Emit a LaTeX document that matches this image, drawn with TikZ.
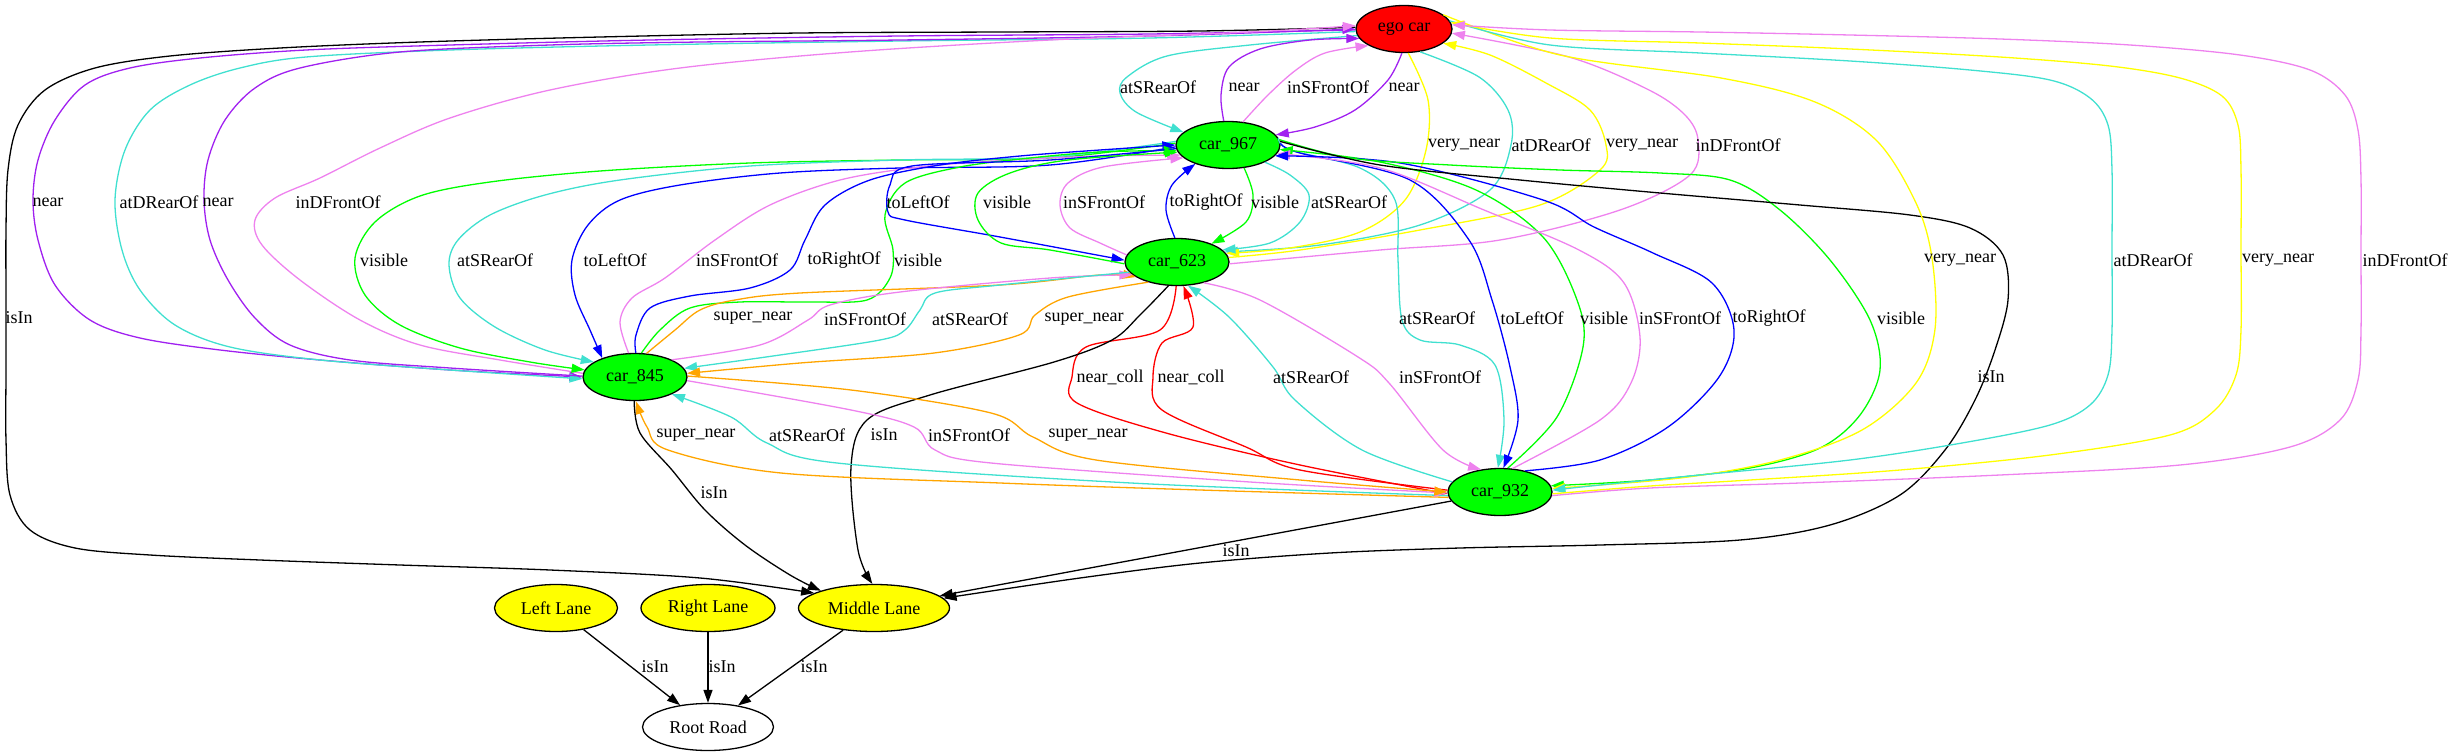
\documentclass[tikz,border=0pt]{standalone}
\usepackage{fontspec}
\setmainfont{Liberation Serif}
\usetikzlibrary{shapes.geometric,arrows.meta}
\definecolor{gvgreen}{RGB}{0,255,0}
\definecolor{gvturq}{RGB}{64,224,208}
\definecolor{gvviolet}{RGB}{238,130,238}
\definecolor{gvpurple}{RGB}{160,32,240}
\definecolor{gvblue}{RGB}{0,0,255}
\definecolor{gvyellow}{RGB}{255,255,0}
\definecolor{gvorange}{RGB}{255,165,0}
\definecolor{gvred}{RGB}{255,0,0}
\tikzset{
  gvnode/.style={ellipse, draw=black, line width=1.3pt, inner sep=0pt, minimum height=47pt, font=\fontsize{18}{20}\selectfont},
  lbl/.style={inner sep=0pt, font=\fontsize{18}{20}\selectfont},
  edg/.style={line width=1.3pt, -{Triangle[length=13pt,width=9pt]}},
  sm/.style={smooth, tension=0.55},
}
\begin{document}
\begin{tikzpicture}[x=1pt,y=-1pt]
\useasboundingbox (0,0) rectangle (2453,755);
% nodes
\node[gvnode, fill=gvred, minimum width=96pt] (ego) at (1404,29) {ego car};
\node[gvnode, fill=gvgreen, minimum width=104pt] (n967) at (1228,145) {car\_967};
\node[gvnode, fill=gvgreen, minimum width=104pt] (n623) at (1177,262) {car\_623};
\node[gvnode, fill=gvgreen, minimum width=104pt] (n845) at (635,377) {car\_845};
\node[gvnode, fill=gvgreen, minimum width=104pt] (n932) at (1500,492) {car\_932};
\node[gvnode, fill=gvyellow, minimum width=123pt] (left) at (556,608) {Left Lane};
\node[gvnode, fill=gvyellow, minimum width=134pt] (right) at (708,608) {Right Lane};
\node[gvnode, fill=gvyellow, minimum width=151pt] (mid) at (874,608) {Middle Lane};
\node[gvnode, fill=white, minimum width=131pt] (root) at (708,727) {Root Road};

% ego <-> car_967
\draw[edg,gvturq] plot[sm] coordinates {(ego.188) (1250,45) (1167,56) (1127,77) (1120,93) (1136,112) (n967.164)};
\draw[edg,gvpurple] plot[sm] coordinates {(n967.100) (1221,95) (1229,67) (1260,49) (1310,40) (ego.192)};
\draw[edg,gvviolet] plot[sm] coordinates {(n967.57) (1268,95) (1296,70) (1325,53) (ego.205)};
\draw[edg,gvpurple] plot[sm] coordinates {(ego.265) (1388,80) (1355,110) (1315,127) (n967.12)};
% ego <-> car_623
\draw[edg,gvturq] plot[sm] coordinates {(ego.305) (1479,77) (1508,110) (1511,145) (1490,190) (1420,225) (1320,245) (n623.12)};
\draw[edg,gvyellow] plot[sm] coordinates {(ego.280) (1428,100) (1426,150) (1405,200) (1360,232) (1290,248) (n623.10)};
\draw[edg,gvyellow] plot[sm] coordinates {(n623.5) (1300,250) (1420,230) (1540,205) (1600,170) (1606,145) (1590,110) (1546,83) (1490,55) (ego.340)};
\draw[edg,gvviolet] plot[sm] coordinates {(n623.358) (1380,250) (1500,240) (1620,210) (1690,175) (1698,140) (1685,115) (1649,90) (1569,57) (ego.355)};
% ego -> Middle Lane
\draw[edg,black] plot[sm] coordinates {(ego.178) (1200,31) (1000,32) (800,33) (600,37) (420,42) (280,48) (170,56) (95,68) (45,90) (18,125) (8,170) (6,230) (6,300) (6,370) (6,440) (10,495) (30,530) (75,548) (150,555) (260,560) (400,565) (550,570) (700,578) (mid.166)};
% ego <-> car_845
\draw[edg,gvpurple] plot[sm] coordinates {(ego.181) (1150,34) (900,36) (650,40) (450,45) (306,50) (200,58) (130,68) (85,85) (55,120) (38,160) (33,200) (38,240) (55,285) (90,320) (140,338) (220,350) (320,360) (450,370) (n845.180)};
\draw[edg,gvturq] plot[sm] coordinates {(ego.183) (1150,38) (900,41) (650,45) (450,50) (306,57) (240,68) (190,85) (150,110) (125,150) (115,200) (122,250) (140,290) (175,325) (230,347) (320,360) (450,370) (n845.182)};
\draw[edg,gvpurple] plot[sm] coordinates {(n845.179) (450,368) (350,360) (290,345) (255,318) (228,280) (210,240) (204,200) (208,160) (225,120) (255,88) (300,68) (400,52) (550,45) (700,42) (900,40) (1150,36) (ego.180)};
\draw[edg,gvviolet] plot[sm] coordinates {(n845.176) (500,360) (420,345) (360,320) (300,280) (262,245) (255,220) (275,198) (320,178) (380,148) (450,118) (550,90) (680,68) (850,52) (1050,40) (1250,32) (ego.176)};
% car_967 <-> car_845
\draw[edg,gvgreen] plot[sm] coordinates {(n967.178) (1050,158) (900,160) (750,163) (600,171) (490,182) (420,196) (375,222) (355,258) (365,295) (400,325) (460,348) (530,362) (n845.172)};
\draw[edg,gvturq] plot[sm] coordinates {(n967.176) (1050,157) (900,160) (750,166) (620,180) (545,195) (490,215) (458,240) (449,265) (460,298) (495,327) (545,350) (n845.160)};
\draw[edg,gvblue] plot[sm] coordinates {(n967.182) (1050,165) (900,168) (780,173) (680,185) (620,200) (588,225) (572,260) (575,295) (590,330) (n845.150)};
\draw[edg,gvviolet] plot[sm] coordinates {(n845.105) (620,322) (632,298) (665,278) (715,240) (770,205) (840,180) (920,167) (1010,160) (1100,156) (n967.192)};
\draw[edg,gvblue] plot[sm] coordinates {(n845.88) (636,335) (650,308) (690,296) (750,288) (790,270) (805,240) (825,205) (870,180) (940,165) (1020,156) (1100,150) (n967.180)};
\draw[edg,gvgreen] plot[sm] coordinates {(n845.75) (660,330) (690,308) (740,302) (810,302) (867,300) (890,278) (893,250) (885,215) (905,183) (960,167) (1030,158) (1100,152) (n967.186)};
% car_967 <-> car_623
\draw[edg,gvblue] plot[sm] coordinates {(n967.184) (1050,160) (912,166) (890,185) (888,212) (905,220) (1000,237) (n623.178)};
\draw[edg,gvgreen] plot[sm] coordinates {(n623.182) (1050,250) (1001,243) (978,220) (978,193) (1010,173) (1068,160) (n967.188)};
\draw[edg,gvviolet] plot[sm] coordinates {(n623.172) (1100,243) (1070,228) (1060,205) (1068,183) (1103,167) (n967.196)};
\draw[edg,gvblue] plot[sm] coordinates {(n623.95) (1166,210) (1172,185) (n967.210)};
\draw[edg,gvgreen] plot[sm] coordinates {(n967.305) (1253,195) (1246,222) (n623.28)};
\draw[edg,gvturq] plot[sm] coordinates {(n967.335) (1290,175) (1309,195) (1300,222) (1270,243) (n623.15)};
% car_967 <-> car_932
\draw[edg,gvturq] plot[sm] coordinates {(n967.8) (1290,150) (1360,168) (1395,200) (1398,260) (1402,320) (1420,340) (1460,345) (1495,365) (1504,420) (n932.95)};
\draw[edg,gvblue] plot[sm] coordinates {(n967.2) (1300,153) (1410,180) (1469,240) (1492,300) (1510,367) (1518,420) (n932.82)};
\draw[edg,gvgreen] plot[sm] coordinates {(n932.72) (1557,417) (1583,347) (1577,300) (1543,237) (1476,190) (1380,162) (n967.355)};
\draw[edg,gvviolet] plot[sm] coordinates {(n932.62) (1600,420) (1631,383) (1640,337) (1624,283) (1579,250) (1484,210) (1380,168) (n967.350)};
\draw[edg,gvblue] plot[sm] coordinates {(n932.40) (1600,460) (1668,427) (1719,377) (1734,330) (1712,283) (1653,253) (1594,227) (1543,200) (1400,163) (n967.347)};
\draw[edg,gvgreen] plot[sm] coordinates {(n967.6) (1350,158) (1450,165) (1560,170) (1660,173) (1730,180) (1780,210) (1830,260) (1870,320) (1880,370) (1860,415) (1820,448) (1750,468) (1650,480) (n932.7)};
\draw[edg,black] plot[sm] coordinates {(n967.4) (1380,165) (1520,180) (1660,193) (1800,205) (1910,215) (1970,228) (2003,255) (2008,300) (1995,350) (1975,400) (1945,450) (1900,495) (1830,525) (1740,540) (1600,545) (1460,548) (1330,553) (1200,563) (1080,578) (mid.8)};
% ego <-> car_932
\draw[edg,gvyellow] plot[sm] coordinates {(ego.20) (1560,55) (1721,78) (1815,102) (1877,141) (1916,203) (1932,258) (1935,329) (1916,383) (1862,430) (1780,460) (1680,478) (n932.4)};
\draw[edg,gvturq] plot[sm] coordinates {(ego.10) (1550,45) (1700,53) (1850,61) (1970,70) (2050,80) (2090,98) (2108,125) (2112,170) (2112,250) (2112,330) (2108,375) (2090,405) (2050,425) (1962,443) (1850,460) (1700,475) (1600,485) (n932.2)};
\draw[edg,gvyellow] plot[sm] coordinates {(n932.358) (1650,486) (1750,480) (1900,470) (2050,455) (2170,435) (2215,410) (2236,375) (2241,330) (2241,250) (2241,170) (2238,125) (2222,96) (2180,78) (2110,66) (2000,57) (1850,49) (1700,43) (1550,38) (ego.8)};
\draw[edg,gvviolet] plot[sm] coordinates {(n932.356) (1650,488) (1800,483) (2000,475) (2180,465) (2290,447) (2340,420) (2358,380) (2361,330) (2361,255) (2361,180) (2358,130) (2345,95) (2310,70) (2240,55) (2130,45) (2000,39) (1850,35) (1700,32) (1550,30) (ego.5)};
% car_845 <-> car_623
\draw[edg,gvorange] plot[sm] coordinates {(n845.64) (675,330) (700,310) (735,300) (800,293) (1000,285) (1100,275) (n623.200)};
\draw[edg,gvviolet] plot[sm] coordinates {(n845.25) (760,345) (808,320) (830,305) (900,292) (1050,278) (n623.196)};
\draw[edg,gvturq] plot[sm] coordinates {(n623.192) (1000,285) (935,293) (920,310) (905,330) (880,340) (780,355) (n845.10)};
\draw[edg,gvorange] plot[sm] coordinates {(n623.215) (1068,297) (1035,315) (1019,335) (934,353) (800,363) (n845.4)};
% car_623 <-> car_932
\draw[edg,gvred] plot[sm] coordinates {(n623.268) (1160,330) (1086,347) (1072,377) (1077,403) (1166,433) (1300,465) (n932.182)};
\draw[edg,gvred] plot[sm] coordinates {(n932.178) (1300,470) (1246,447) (1162,410) (1153,377) (1162,343) (1193,327) (n623.285)};
\draw[edg,gvturq] plot[sm] coordinates {(n932.168) (1362,450) (1295,400) (1273,367) (1229,317) (n623.295)};
\draw[edg,gvviolet] plot[sm] coordinates {(n623.322) (1260,300) (1358,357) (1389,383) (1443,450) (n932.130)};
\draw[edg,black] plot[sm] coordinates {(n623.250) (1140,315) (1112,340) (1054,362) (930,395) (867,420) (851,467) (858,550) (mid.94)};
% car_845 <-> car_932
\draw[edg,gvorange] plot[sm] coordinates {(n932.186) (1200,490) (1000,483) (781,473) (668,450) (647,427) (n845.272)};
\draw[edg,gvturq] plot[sm] coordinates {(n932.184) (1131,483) (837,463) (767,443) (731,417) (n845.335)};
\draw[edg,gvviolet] plot[sm] coordinates {(n845.356) (851,410) (914,427) (935,450) (991,463) (1250,482) (n932.181)};
\draw[edg,gvorange] plot[sm] coordinates {(n845.1) (851,390) (991,413) (1033,437) (1096,460) (1300,480) (n932.180)};
\draw[edg,black] plot[sm] coordinates {(n845.268) (640,433) (672,470) (705,510) (745,545) (790,575) (mid.162)};
\draw[edg,black] (n932) -- (mid);
% lanes
\draw[edg,black] (left) -- (root);
\draw[edg,black] (right) -- (root);
\draw[edg,black] (mid) -- (root);

% labels
\node[lbl] (l1) at (1158,87) {atSRearOf};
\node[lbl] (l2) at (1244,87) {near};
\node[lbl] (l3) at (1328,87) {inSFrontOf};
\node[lbl] (l4) at (1404,87) {near};
\node[lbl] (l5) at (1464,145) {very\_near};
\node[lbl] (l6) at (1551,145) {atDRearOf};
\node[lbl] (l7) at (1642,145) {very\_near};
\node[lbl] (l8) at (1738,145) {inDFrontOf};
\node[lbl] (l9) at (48,202) {near};
\node[lbl] (l10) at (159,202) {atDRearOf};
\node[lbl] (l11) at (218,202) {near};
\node[lbl] (l12) at (338,202) {inDFrontOf};
\node[lbl] (l13) at (384,260) {visible};
\node[lbl] (l14) at (495,260) {atSRearOf};
\node[lbl] (l15) at (615,260) {toLeftOf};
\node[lbl] (l16) at (737,260) {inSFrontOf};
\node[lbl] (l17) at (844,260) {toRightOf};
\node[lbl] (l18) at (918,260) {visible};
\node[lbl] (l19) at (19,318) {isIn};
\node[lbl] (l20) at (918,202) {toLeftOf};
\node[lbl] (l21) at (1007,202) {visible};
\node[lbl] (l22) at (1104,202) {inSFrontOf};
\node[lbl] (l23) at (1206,202) {toRightOf};
\node[lbl] (l24) at (1275,202) {visible};
\node[lbl] (l25) at (1349,202) {atSRearOf};
\node[lbl] (l26) at (753,318) {super\_near};
\node[lbl] (l27) at (865,319) {inSFrontOf};
\node[lbl] (l28) at (970,319) {atSRearOf};
\node[lbl] (l29) at (1084,319) {super\_near};
\node[lbl] (l30) at (1437,318) {atSRearOf};
\node[lbl] (l31) at (1532,318) {toLeftOf};
\node[lbl] (l32) at (1604,318) {visible};
\node[lbl] (l33) at (1680,318) {inSFrontOf};
\node[lbl] (l34) at (1769,318) {toRightOf};
\node[lbl] (l35) at (1901,318) {visible};
\node[lbl] (l36) at (1960,260) {very\_near};
\node[lbl] (l37) at (2153,260) {atDRearOf};
\node[lbl] (l38) at (2278,260) {very\_near};
\node[lbl] (l39) at (2405,260) {inDFrontOf};
\node[lbl] (l40) at (1110,377) {near\_coll};
\node[lbl] (l41) at (1191,377) {near\_coll};
\node[lbl] (l42) at (1311,377) {atSRearOf};
\node[lbl] (l43) at (1440,377) {inSFrontOf};
\node[lbl] (l44) at (1991,377) {isIn};
\node[lbl] (l45) at (696,435) {super\_near};
\node[lbl] (l46) at (807,435) {atSRearOf};
\node[lbl] (l47) at (884,435) {isIn};
\node[lbl] (l48) at (969,435) {inSFrontOf};
\node[lbl] (l49) at (1088,435) {super\_near};
\node[lbl] (l50) at (714,493) {isIn};
\node[lbl] (l51) at (1236,551) {isIn};
\node[lbl] (l52) at (655,667) {isIn};
\node[lbl] (l53) at (722,667) {isIn};
\node[lbl] (l54) at (814,667) {isIn};
\end{tikzpicture}
\end{document}
